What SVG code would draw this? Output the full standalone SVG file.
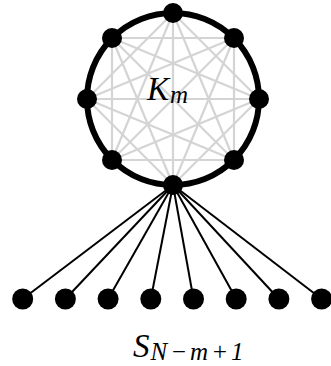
<svg xmlns="http://www.w3.org/2000/svg" width="331" height="366" viewBox="0 0 331 366">
<style>
.chord{stroke:#d4d4d4;stroke-width:2.2;fill:none}
.spoke{stroke:#000;stroke-width:2}
.ring{stroke:#000;stroke-width:6;fill:none}
.n{fill:#000}
.lbl{font-family:"Liberation Serif","DejaVu Serif",serif;font-style:italic;fill:#000}
</style>
<rect width="331" height="366" fill="#fff"/>
<g id="connectors">
<g id="chords">
<line class="chord" x1="173" y1="13" x2="259" y2="99"/>
<line class="chord" x1="173" y1="13" x2="234" y2="160"/>
<line class="chord" x1="173" y1="13" x2="173" y2="185"/>
<line class="chord" x1="173" y1="13" x2="112" y2="160"/>
<line class="chord" x1="173" y1="13" x2="87" y2="99"/>
<line class="chord" x1="234" y1="38" x2="234" y2="160"/>
<line class="chord" x1="234" y1="38" x2="173" y2="185"/>
<line class="chord" x1="234" y1="38" x2="112" y2="160"/>
<line class="chord" x1="234" y1="38" x2="87" y2="99"/>
<line class="chord" x1="234" y1="38" x2="112" y2="38"/>
<line class="chord" x1="259" y1="99" x2="173" y2="185"/>
<line class="chord" x1="259" y1="99" x2="112" y2="160"/>
<line class="chord" x1="259" y1="99" x2="87" y2="99"/>
<line class="chord" x1="259" y1="99" x2="112" y2="38"/>
<line class="chord" x1="234" y1="160" x2="112" y2="160"/>
<line class="chord" x1="234" y1="160" x2="87" y2="99"/>
<line class="chord" x1="234" y1="160" x2="112" y2="38"/>
<line class="chord" x1="173" y1="185" x2="87" y2="99"/>
<line class="chord" x1="173" y1="185" x2="112" y2="38"/>
<line class="chord" x1="112" y1="160" x2="112" y2="38"/>
</g>
<circle class="ring" cx="173" cy="99" r="86"/>
<g id="spokes">
<line class="spoke" x1="173" y1="185" x2="22.7" y2="299"/>
<line class="spoke" x1="173" y1="185" x2="65.4" y2="299"/>
<line class="spoke" x1="173" y1="185" x2="108.1" y2="299"/>
<line class="spoke" x1="173" y1="185" x2="150.8" y2="299"/>
<line class="spoke" x1="173" y1="185" x2="193.5" y2="299"/>
<line class="spoke" x1="173" y1="185" x2="236.2" y2="299"/>
<line class="spoke" x1="173" y1="185" x2="278.9" y2="299"/>
<line class="spoke" x1="173" y1="185" x2="321.6" y2="299"/>
</g>
</g>
<g id="clique-nodes">
<circle id="k0" class="n" cx="173" cy="13" r="10"/>
<circle id="k1" class="n" cx="234" cy="38" r="10"/>
<circle id="k2" class="n" cx="259" cy="99" r="10"/>
<circle id="k3" class="n" cx="234" cy="160" r="10"/>
<circle id="k4" class="n" cx="173" cy="185" r="10"/>
<circle id="k5" class="n" cx="112" cy="160" r="10"/>
<circle id="k6" class="n" cx="87" cy="99" r="10"/>
<circle id="k7" class="n" cx="112" cy="38" r="10"/>
</g>
<g id="star-nodes">
<circle id="s0" class="n" cx="22.7" cy="299" r="10.5"/>
<circle id="s1" class="n" cx="65.4" cy="299" r="10.5"/>
<circle id="s2" class="n" cx="108.1" cy="299" r="10.5"/>
<circle id="s3" class="n" cx="150.8" cy="299" r="10.5"/>
<circle id="s4" class="n" cx="193.5" cy="299" r="10.5"/>
<circle id="s5" class="n" cx="236.2" cy="299" r="10.5"/>
<circle id="s6" class="n" cx="278.9" cy="299" r="10.5"/>
<circle id="s7" class="n" cx="321.6" cy="299" r="10.5"/>
</g>
<g id="label-km">
<text class="lbl" x="147" y="100" font-size="33">K<tspan font-size="25" dy="3" dx="1">m</tspan></text>
</g>
<g id="label-s">
<text class="lbl" x="133" y="357" font-size="33">S<tspan font-size="25" dy="3" dx="1" textLength="93" lengthAdjust="spacing">N−m+1</tspan></text>
</g>
</svg>
